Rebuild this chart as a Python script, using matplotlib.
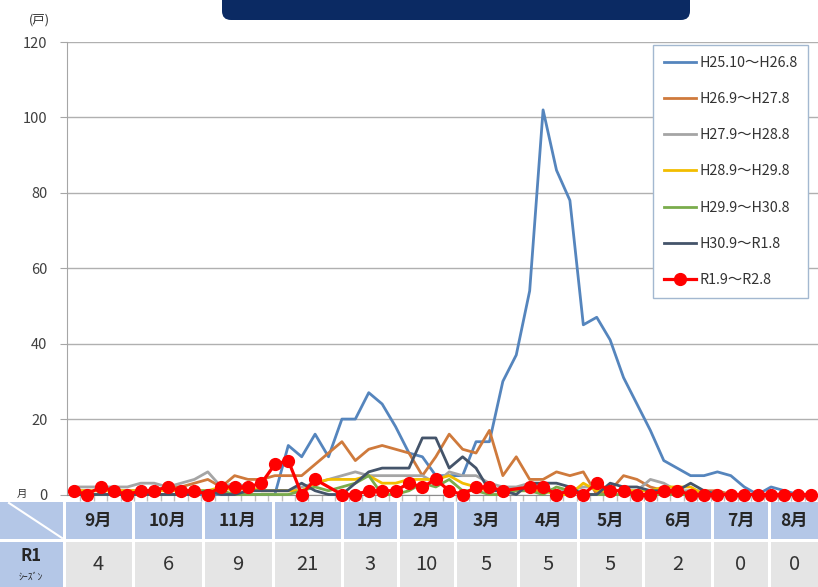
import numpy as np
import matplotlib
matplotlib.use("Agg")
import matplotlib.pyplot as plt
from matplotlib.patches import Rectangle, FancyBboxPatch

plt.rcParams['font.family'] = ['Noto Sans CJK JP', 'DejaVu Sans']

nan = np.nan

# weekly counts (戸), first week of Sep .. end of Aug
h25 = [nan, nan, nan, nan, nan, 0, 0, 0, 0, 0, 0, 0, 0, 0, 0,
       0, 13, 10, 16, 10, 20, 20, 27, 24, 18, 11, 10, 5, 5,
       5, 14, 14, 30, 37, 54, 102, 86, 78, 45, 47, 41, 31,
       24, 17, 9, 7, 5, 5, 6, 5, 2, 0, 2, 1, 0, 0]
h26 = [1, 1, 1, 1, 1, 1, 1, 2, 2, 3, 4, 2, 5, 4, 4,
       5, 5, 5, 8, 11, 14, 9, 12, 13, 12, 11, 5, 10, 16,
       12, 11, 17, 5, 10, 4, 4, 6, 5, 6, 0, 1, 5,
       4, 2, 1, 1, 0, 1, 1, 0, 0, 0, 0, 0, 0, 0]
h27 = [2, 2, 2, 2, 2, 3, 3, 2, 3, 4, 6, 2, 3, 2, 1,
       1, 1, 2, 3, 4, 5, 6, 5, 5, 5, 5, 5, 3, 6,
       5, 5, 3, 2, 2, 3, 2, 1, 1, 2, 2, 1, 1,
       1, 4, 3, 1, 1, 1, 0, 0, 0, 0, 0, 0, 0, 0]
h28 = [1, 1, 1, 1, 1, 1, 1, 1, 1, 1, 1, 2, 1, 2, 1,
       1, 1, 1, 3, 4, 4, 4, 5, 3, 3, 4, 4, 4, 5,
       3, 2, 1, 1, 1, 1, 1, 0, 0, 3, 1, 1, 1,
       1, 1, 2, 2, 2, 0, 0, 0, 0, 0, 0, 0, 0, 0]
h29 = [0, 0, 0, 0, 0, 0, 0, 0, 0, 1, 1, 1, 0, 0, 0,
       0, 0, 1, 2, 1, 2, 3, 5, 0, 0, 1, 3, 2, 4,
       1, 1, 0, 0, 1, 1, 0, 2, 1, 0, 0, 0, 0,
       0, 0, 0, 0, 0, 0, 0, 0, 0, 0, 0, 0, 0, 0]
h30 = [0, 0, 0, 0, 0, 0, 0, 0, 0, 0, 1, 0, 0, 1, 1,
       1, 1, 3, 1, 0, 0, 3, 6, 7, 7, 7, 15, 15, 7,
       10, 7, 1, 1, 0, 3, 3, 3, 2, 0, 0, 3, 2,
       2, 1, 1, 1, 3, 1, 0, 0, 0, 0, 0, 0, 0, 0]
r1 = [1, 0, 2, 1, 0, 1, 1, 2, 1, 1, 0, 2, 2, 2, 3,
      8, 9, 0, 4, nan, 0, 0, 1, 1, 1, 3, 2, 4, 1,
      0, 2, 2, 1, nan, 2, 2, 0, 1, 0, 3, 1, 1,
      0, 0, 1, 1, 0, 0, 0, 0, 0, 0, 0, 0, 0, 0]

series = [h25, h26, h27, h28, h29, h30, r1]
labels = ["H25.10～H26.8", "H26.9～H27.8", "H27.9～H28.8", "H28.9～H29.8",
          "H29.9～H30.8", "H30.9～R1.8", "R1.9～R2.8"]
colors = ['#5585bd', '#cf7a3c', '#a5a5a5', '#f2bd00', '#7aac4c', '#44546a', '#ff0000']

months = ["9月", "10月", "11月", "12月", "1月", "2月", "3月", "4月", "5月", "6月", "7月", "8月"]
r1_monthly = [4, 6, 9, 21, 3, 10, 5, 5, 5, 2, 0, 0]
yticks = [0, 20, 40, 60, 80, 100, 120]

W, H = 818, 587
fig = plt.figure(figsize=(W / 100, H / 100), dpi=100)

# background layer in pixel coords for table / title box
bg = fig.add_axes([0, 0, 1, 1], zorder=-1)
bg.set_xlim(0, W)
bg.set_ylim(H, 0)
bg.axis('off')

bg.add_patch(FancyBboxPatch((222, -30), 468, 50, boxstyle="round,pad=0,rounding_size=9",
                            fc='#0b2a63', ec='none'))

hdr_blue = '#b4c7e7'
cell_gray = '#e5e5e5'
edges = [64, 133, 203, 273, 342, 398, 455, 518, 578, 643, 712, 769, 822]
row1 = (502, 539)
row2 = (542, 590)

bg.add_patch(Rectangle((0, row1[0]), edges[0] - 1.5, row1[1] - row1[0], fc=hdr_blue, ec='none'))
bg.add_patch(Rectangle((0, row2[0]), edges[0] - 1.5, row2[1] - row2[0], fc=hdr_blue, ec='none'))
bg.plot([9, 62], [503, 538], color='white', lw=1.5)
bg.text(31, 556, "R1", ha='center', va='center', fontsize=12, fontweight='bold', color='#262626')
bg.text(31, 577, "ｼｰｽﾞﾝ", ha='center', va='center', fontsize=7, color='#262626')

for k, (m, v) in enumerate(zip(months, r1_monthly)):
    x0 = edges[k] + 1.5
    x1 = edges[k + 1] - 1.5
    bg.add_patch(Rectangle((x0, row1[0]), x1 - x0, row1[1] - row1[0], fc=hdr_blue, ec='none'))
    bg.add_patch(Rectangle((x0, row2[0]), x1 - x0, row2[1] - row2[0], fc=cell_gray, ec='none'))
    cx = (x0 + min(x1, W)) / 2
    bg.text(cx, 521, m, ha='center', va='center', fontsize=12.5, fontweight='bold', color='#262626')
    bg.text(cx, 565, str(v), ha='center', va='center', fontsize=14.5, color='#333333')

bg.text(39, 20, "(戸)", ha='center', va='center', fontsize=9, color='#333333')
bg.text(22, 494, "月", ha='center', va='center', fontsize=7.5, color='#333333')

# main chart
left, right, top, bottom = 67, 818, 42, 494.5
ax = fig.add_axes([left / W, (H - bottom) / H, (right - left) / W, (bottom - top) / H])
ax.patch.set_alpha(0)

x = np.arange(len(r1))
for vals, lab, col in zip(series, labels, colors):
    arr = np.array(vals, dtype=float)
    m = ~np.isnan(arr)
    if lab.startswith("R1"):
        ax.plot(x[m], arr[m], color=col, lw=2.3, marker='o', markersize=8.5,
                label=lab, zorder=5, clip_on=False)
    else:
        ax.plot(x[m], arr[m], color=col, lw=2.0, label=lab, zorder=3, clip_on=False)

ax.set_xlim(-0.5, 55.15)
ax.set_ylim(0, 120)
ax.set_yticks(yticks)
ax.set_yticklabels([str(t) for t in yticks], fontsize=10.5, color='#404040')
ax.set_xticks([])
ax.set_xticks(np.arange(len(r1)) + 0.5, minor=True)
ax.tick_params(axis='x', which='minor', length=4, color='#bfbfbf', width=1)
ax.tick_params(axis='y', length=5, color='#a6a6a6', pad=9)
ax.yaxis.grid(True, color='#b0b0b0', lw=1)
ax.set_axisbelow(True)
for s in ['top', 'right']:
    ax.spines[s].set_visible(False)
ax.spines['left'].set_color('#a6a6a6')
ax.spines['bottom'].set_color('#8c8c8c')

leg = ax.legend(loc='upper left', bbox_to_anchor=(0.780, 0.993), fontsize=10.3,
                labelspacing=1.55, handlelength=2.3, handletextpad=0.2,
                borderpad=0.75, fancybox=False, edgecolor='#a3b8d0', framealpha=1,
                borderaxespad=0)
for t in leg.get_texts():
    t.set_color('#333333')

fig.savefig("out.png", dpi=100)
